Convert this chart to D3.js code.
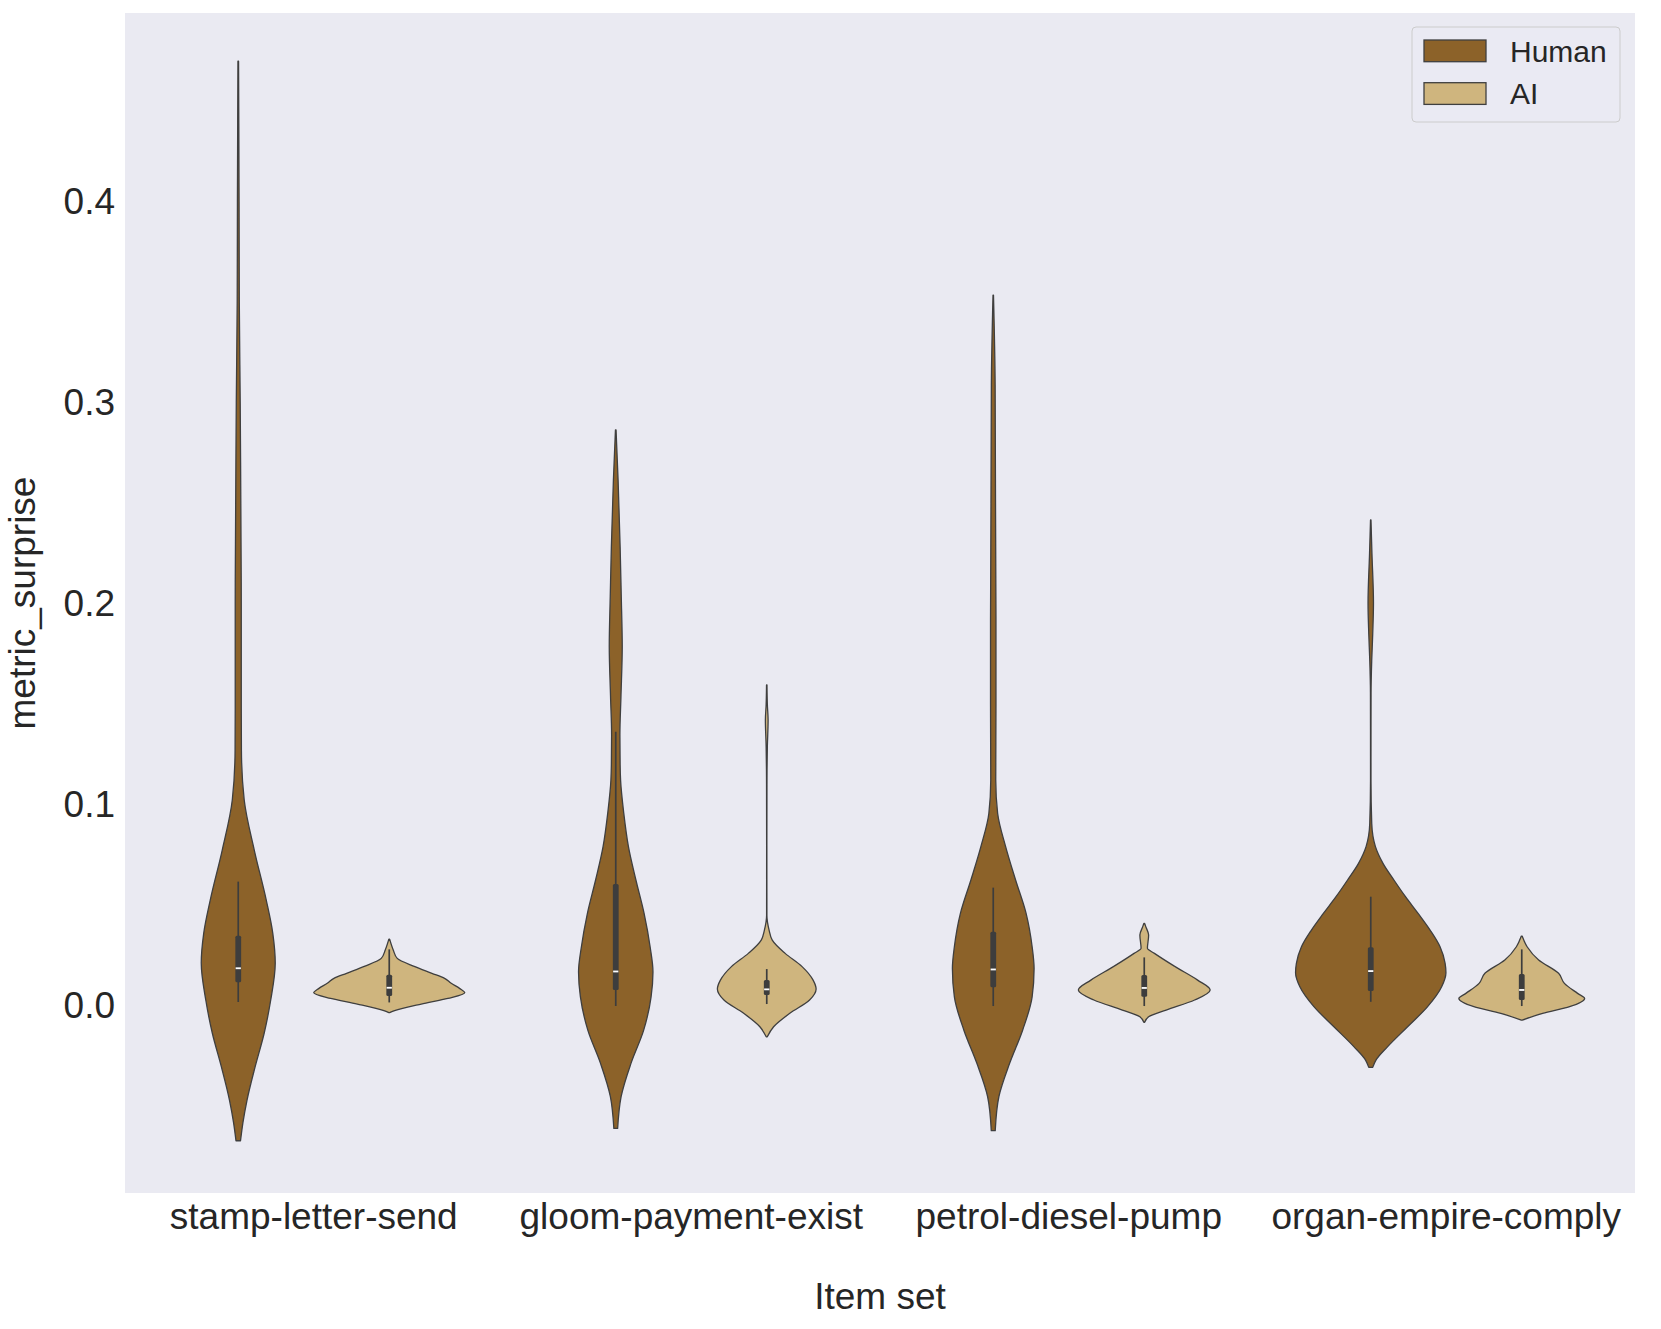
<!DOCTYPE html>
<meta charset="utf-8">
<title>metric_surprise by item set</title>
<script src="https://d3js.org/d3.v7.min.js"></script>
<style>
    body { margin: 0; background: #ffffff; }
    text { font-family: "Liberation Sans", Arial, Helvetica, sans-serif; fill: #262626; }
</style>
<body>
<div id="chart"></div>
<script>
    // categories and hue groups
    var categories = ["stamp-letter-send", "gloom-payment-exist", "petrol-diesel-pump", "organ-empire-comply"];
    var groups = ["Human", "AI"];
    var groupColors = ["#8c6229", "#cfb57e"];
    var yTicks = [0.0, 0.1, 0.2, 0.3, 0.4];

    // kernel density outlines, [value, relative density]
    var stampHuman = [[0.470, 0.004], [0.40, 0.011], [0.35, 0.014], [0.30, 0.026], [0.25, 0.034], [0.20, 0.040],
        [0.15, 0.040], [0.127, 0.042], [0.1025, 0.079], [0.0776, 0.212], [0.0527, 0.371], [0.0363, 0.457],
        [0.0214, 0.490], [0.003, 0.430], [-0.0134, 0.344], [-0.030, 0.225], [-0.047, 0.115], [-0.058, 0.062], [-0.067, 0.03]];
    var stampAI = [[0.0333, 0.005], [0.0279, 0.053], [0.0237, 0.106], [0.0196, 0.340], [0.0163, 0.565], [0.0138, 0.733],
        [0.0113, 0.821], [0.0088, 0.931], [0.0066, 1.0], [0.0038, 0.777], [0.001, 0.424], [-0.0023, 0.071], [-0.0033, 0.005]];
    var gloomHuman = [[0.2866, 0.004], [0.2617, 0.031], [0.2285, 0.058], [0.2036, 0.073], [0.179, 0.086], [0.154, 0.069],
        [0.135, 0.055], [0.12, 0.058], [0.1124, 0.064], [0.096, 0.106], [0.0793, 0.168], [0.0627, 0.267], [0.046, 0.376],
        [0.0295, 0.455], [0.017, 0.493], [0.0046, 0.468], [-0.012, 0.370], [-0.0284, 0.203], [-0.0451, 0.071], [-0.0609, 0.025]];
    var gloomAI = [[0.1597, 0.003], [0.150, 0.008], [0.1423, 0.018], [0.129, 0.008], [0.1124, 0.003], [0.08, 0.0015],
        [0.045, 0.002], [0.0378, 0.031], [0.0328, 0.073], [0.0262, 0.244], [0.0196, 0.468], [0.0129, 0.614],
        [0.0085, 0.654], [0.003, 0.567], [-0.0035, 0.310], [-0.0103, 0.091], [-0.0153, 0.007]];
    var petrolHuman = [[0.3537, 0.003], [0.309, 0.025], [0.25, 0.030], [0.193, 0.036], [0.15, 0.036], [0.1124, 0.033],
        [0.0959, 0.058], [0.0793, 0.164], [0.0627, 0.296], [0.0461, 0.435], [0.0295, 0.515], [0.0187, 0.541],
        [0.0046, 0.515], [-0.012, 0.389], [-0.0285, 0.217], [-0.045, 0.075], [-0.062, 0.026]];
    var petrolAI = [[0.0411, 0.005], [0.0395, 0.02], [0.0353, 0.058], [0.0287, 0.042], [0.0262, 0.135], [0.0196, 0.409],
        [0.0129, 0.707], [0.008, 0.873], [0.003, 0.667], [-0.002, 0.290], [-0.0053, 0.058], [-0.0081, 0.005]];
    var organHuman = [[0.2418, 0.003], [0.225, 0.016], [0.2005, 0.036], [0.185, 0.026], [0.172, 0.013], [0.156, 0.004],
        [0.12, 0.003], [0.1124, 0.003], [0.0909, 0.013], [0.0793, 0.062], [0.071, 0.162], [0.0627, 0.307],
        [0.0544, 0.460], [0.0461, 0.627], [0.0378, 0.786], [0.0295, 0.918], [0.0212, 0.985], [0.0166, 0.996],
        [0.0096, 0.939], [-0.0003, 0.753], [-0.0103, 0.488], [-0.0202, 0.224], [-0.0269, 0.069], [-0.0305, 0.026]];
    var organAI = [[0.0348, 0.005], [0.0295, 0.071], [0.0229, 0.224], [0.0163, 0.488], [0.0113, 0.565], [0.0063, 0.740],
        [0.0038, 0.833], [-0.0003, 0.634], [-0.0036, 0.277], [-0.007, 0.005]];

    // inner box: [whisker low, q1, median, q3, whisker high]
    var stampHumanBox = [0.002, 0.0118, 0.0188, 0.035, 0.0619];
    var stampAIBox = [0.0018, 0.005, 0.0091, 0.0156, 0.0282];
    var gloomHumanBox = [0.0, 0.008, 0.0172, 0.0607, 0.1365];
    var gloomAIBox = [0.001, 0.0055, 0.0083, 0.0129, 0.0184];
    var petrolHumanBox = [0.0, 0.0093, 0.0182, 0.037, 0.0589];
    var petrolAIBox = [0.0, 0.0046, 0.009, 0.0154, 0.0242];
    var organHumanBox = [0.0021, 0.0075, 0.0174, 0.0292, 0.0544];
    var organAIBox = [0.0, 0.003, 0.008, 0.0159, 0.0282];

    var violins = [
        {cat: categories[0], group: "Human", kde: stampHuman, box: stampHumanBox},
        {cat: categories[0], group: "AI", kde: stampAI, box: stampAIBox},
        {cat: categories[1], group: "Human", kde: gloomHuman, box: gloomHumanBox},
        {cat: categories[1], group: "AI", kde: gloomAI, box: gloomAIBox},
        {cat: categories[2], group: "Human", kde: petrolHuman, box: petrolHumanBox},
        {cat: categories[2], group: "AI", kde: petrolAI, box: petrolAIBox},
        {cat: categories[3], group: "Human", kde: organHuman, box: organHumanBox},
        {cat: categories[3], group: "AI", kde: organAI, box: organAIBox}
    ];

    var W = 1661, H = 1329;
    var margin = {top: 13, right: 26, bottom: 136, left: 125};

    var svg = d3.select("#chart").append("svg")
        .attr("width", W)
        .attr("height", H);

    var x = d3.scaleBand().domain(categories).range([margin.left, W - margin.right]).padding(0);
    var bw = x.bandwidth();
    var hue = d3.scaleBand().domain(groups).range([-0.4 * bw, 0.4 * bw]);
    var y = d3.scaleLinear().domain([-0.093, 0.494]).range([H - margin.bottom, margin.top]);
    var dens = d3.scaleLinear().domain([0, 1]).range([0, hue.bandwidth() / 2]);
    var color = d3.scaleOrdinal().domain(groups).range(groupColors);

    // axes background
    svg.append("rect")
        .attr("x", margin.left).attr("y", margin.top)
        .attr("width", W - margin.left - margin.right)
        .attr("height", H - margin.top - margin.bottom)
        .attr("fill", "#eaeaf2");

    function cx(d) { return x(d.cat) + bw / 2 + hue(d.group) + hue.bandwidth() / 2; }

    var g = svg.selectAll(".violin")
        .data(violins).enter()
        .append("g")
        .attr("class", "violin")
        .attr("transform", function(d) { return "translate(" + cx(d) + ",0)"; });

    var area = d3.area()
        .y(function(p) { return y(p[0]); })
        .x0(function(p) { return -dens(p[1]); })
        .x1(function(p) { return dens(p[1]); })
        .curve(d3.curveMonotoneY);

    g.append("path")
        .attr("d", function(d) { return area(d.kde); })
        .attr("fill", function(d) { return color(d.group); })
        .attr("stroke", "#3f3f3f")
        .attr("stroke-width", 1.3)
        .attr("stroke-linejoin", "round");

    // whiskers
    g.append("line")
        .attr("x1", 0).attr("x2", 0)
        .attr("y1", function(d) { return y(d.box[0]); })
        .attr("y2", function(d) { return y(d.box[4]); })
        .attr("stroke", "#3d3d3d")
        .attr("stroke-width", 1.7);

    // box
    g.append("rect")
        .attr("x", -2.9).attr("width", 5.8)
        .attr("y", function(d) { return y(d.box[3]); })
        .attr("height", function(d) { return y(d.box[1]) - y(d.box[3]); })
        .attr("rx", 1.5)
        .attr("fill", "#3d3d3d");

    // median
    g.append("rect")
        .attr("x", -2.6).attr("width", 5.2)
        .attr("y", function(d) { return y(d.box[2]) - 0.9; })
        .attr("height", 1.8)
        .attr("fill", "#ffffff");

    // y axis
    var yAxis = svg.append("g")
        .attr("transform", "translate(" + margin.left + ",0)")
        .call(d3.axisLeft(y).tickValues(yTicks).tickSize(0).tickPadding(10).tickFormat(d3.format(".1f")));
    yAxis.select(".domain").remove();
    yAxis.selectAll("text").attr("font-size", "37px").attr("font-family", null).attr("fill", "#262626");

    // x axis
    var xAxis = svg.append("g")
        .attr("transform", "translate(0," + (H - margin.bottom) + ")")
        .call(d3.axisBottom(x).tickSize(0).tickPadding(10));
    xAxis.select(".domain").remove();
    xAxis.selectAll("text").attr("font-size", "37px").attr("font-family", null).attr("fill", "#262626");

    // axis titles
    svg.append("text")
        .attr("x", (margin.left + W - margin.right) / 2)
        .attr("y", 1309)
        .attr("text-anchor", "middle")
        .attr("font-size", "37px")
        .text("Item set");

    svg.append("text")
        .attr("transform", "translate(35," + ((margin.top + H - margin.bottom) / 2) + ") rotate(-90)")
        .attr("text-anchor", "middle")
        .attr("font-size", "37px")
        .text("metric_surprise");

    // legend
    var legend = svg.append("g").attr("transform", "translate(1412,27)");
    legend.append("rect")
        .attr("width", 208).attr("height", 95)
        .attr("rx", 4)
        .attr("fill", "#eaeaf2").attr("fill-opacity", 0.8)
        .attr("stroke", "#cccccc").attr("stroke-width", 1);

    var items = legend.selectAll(".item")
        .data(groups).enter()
        .append("g")
        .attr("class", "item")
        .attr("transform", function(d, i) { return "translate(0," + (i * 42.7) + ")"; });
    items.append("rect")
        .attr("x", 12).attr("y", 13)
        .attr("width", 62).attr("height", 21.7)
        .attr("fill", function(d) { return color(d); })
        .attr("stroke", "#3f3f3f").attr("stroke-width", 1.3);
    items.append("text")
        .attr("x", 98).attr("y", 34.7)
        .attr("font-size", "30px")
        .text(function(d) { return d; });
</script>
</body>
